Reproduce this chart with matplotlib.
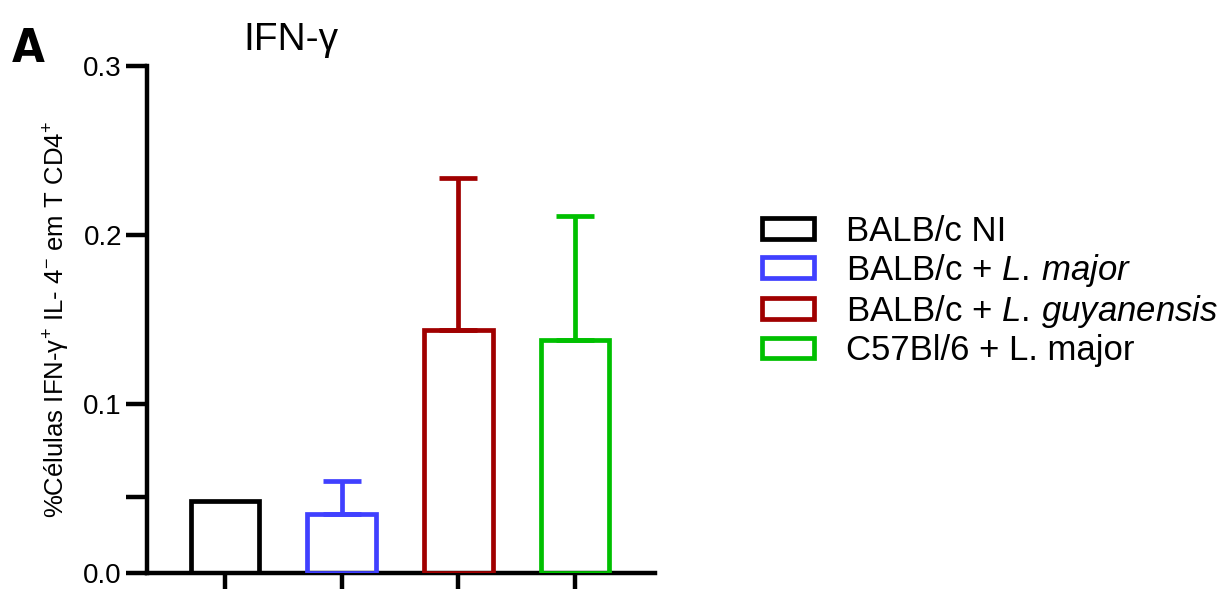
import matplotlib
matplotlib.use("Agg")
import matplotlib.pyplot as plt
from matplotlib.patches import Patch

plt.rcParams['font.family'] = ['Liberation Sans', 'DejaVu Sans']
plt.rcParams['mathtext.fontset'] = 'custom'
plt.rcParams['mathtext.rm'] = 'Liberation Sans'
plt.rcParams['mathtext.it'] = 'Liberation Sans:italic'

# data
groups = ['BALB/c NI', 'BALB/c + $\\mathit{L.\\,major}$',
          'BALB/c + $\\mathit{L.\\,guyanensis}$', 'C57Bl/6 + L. major']
means = [0.0426, 0.0349, 0.1438, 0.1379]
sd_up = [0.0, 0.0195, 0.0899, 0.0733]
colors = ['#000000', '#4040FF', '#A00000', '#00C000']
ytick_vals = [0.0, 0.045, 0.1, 0.2, 0.3]
ytick_labels = ['0.0', '', '0.1', '0.2', '0.3']

fig = plt.figure(figsize=(12.3, 5.89), dpi=100)
ax = fig.add_axes([147/1230, 16/589, 508/1230, 507/589])

x = range(len(means))
for i in x:
    ax.bar(i, means[i], width=0.59, fill=False, edgecolor=colors[i],
           linewidth=3.4, zorder=3)
    if sd_up[i] > 0:
        ax.errorbar(i, means[i], yerr=[[0], [sd_up[i]]], color=colors[i],
                    elinewidth=3.4, capsize=14, capthick=3.4, zorder=2)

ax.set_xlim(-0.668, 3.686)
ax.set_ylim(0, 0.3)
ax.set_xticks(list(x))
ax.set_xticklabels([])
ax.set_yticks(ytick_vals)
ax.set_yticklabels(ytick_labels, fontsize=20)
ax.tick_params(axis='y', length=15, width=3.2, pad=3)
ax.tick_params(axis='x', length=14, width=3.2)
for s in ['top', 'right']:
    ax.spines[s].set_visible(False)
for s in ['left', 'bottom']:
    ax.spines[s].set_linewidth(3.2)
ax.spines['left'].set_capstyle('projecting')

ax.set_ylabel('%Células IFN-γ$^{+}$ IL- 4$^{-}$ em T CD4$^{+}$', fontsize=18.5,
              labelpad=8)

fig.text(291/1230, 1 - 40/589, 'IFN-γ', fontsize=28, ha='center', va='center')
fig.text(12/1230, 1 - 49/589, 'A', fontsize=34, fontweight='heavy',
         fontstretch='condensed', family=['DejaVu Sans'],
         ha='left', va='center')

handles = [Patch(facecolor='white', edgecolor=c, linewidth=3.4) for c in colors]
fig.legend(handles, groups, loc='center left',
           bbox_to_anchor=(762/1230, 1 - 291/589), frameon=False,
           fontsize=25, handlelength=1.5, handleheight=0.55,
           handletextpad=0.92, labelspacing=0.12, borderpad=0,
           borderaxespad=0)

fig.savefig('out.png', dpi=100)
